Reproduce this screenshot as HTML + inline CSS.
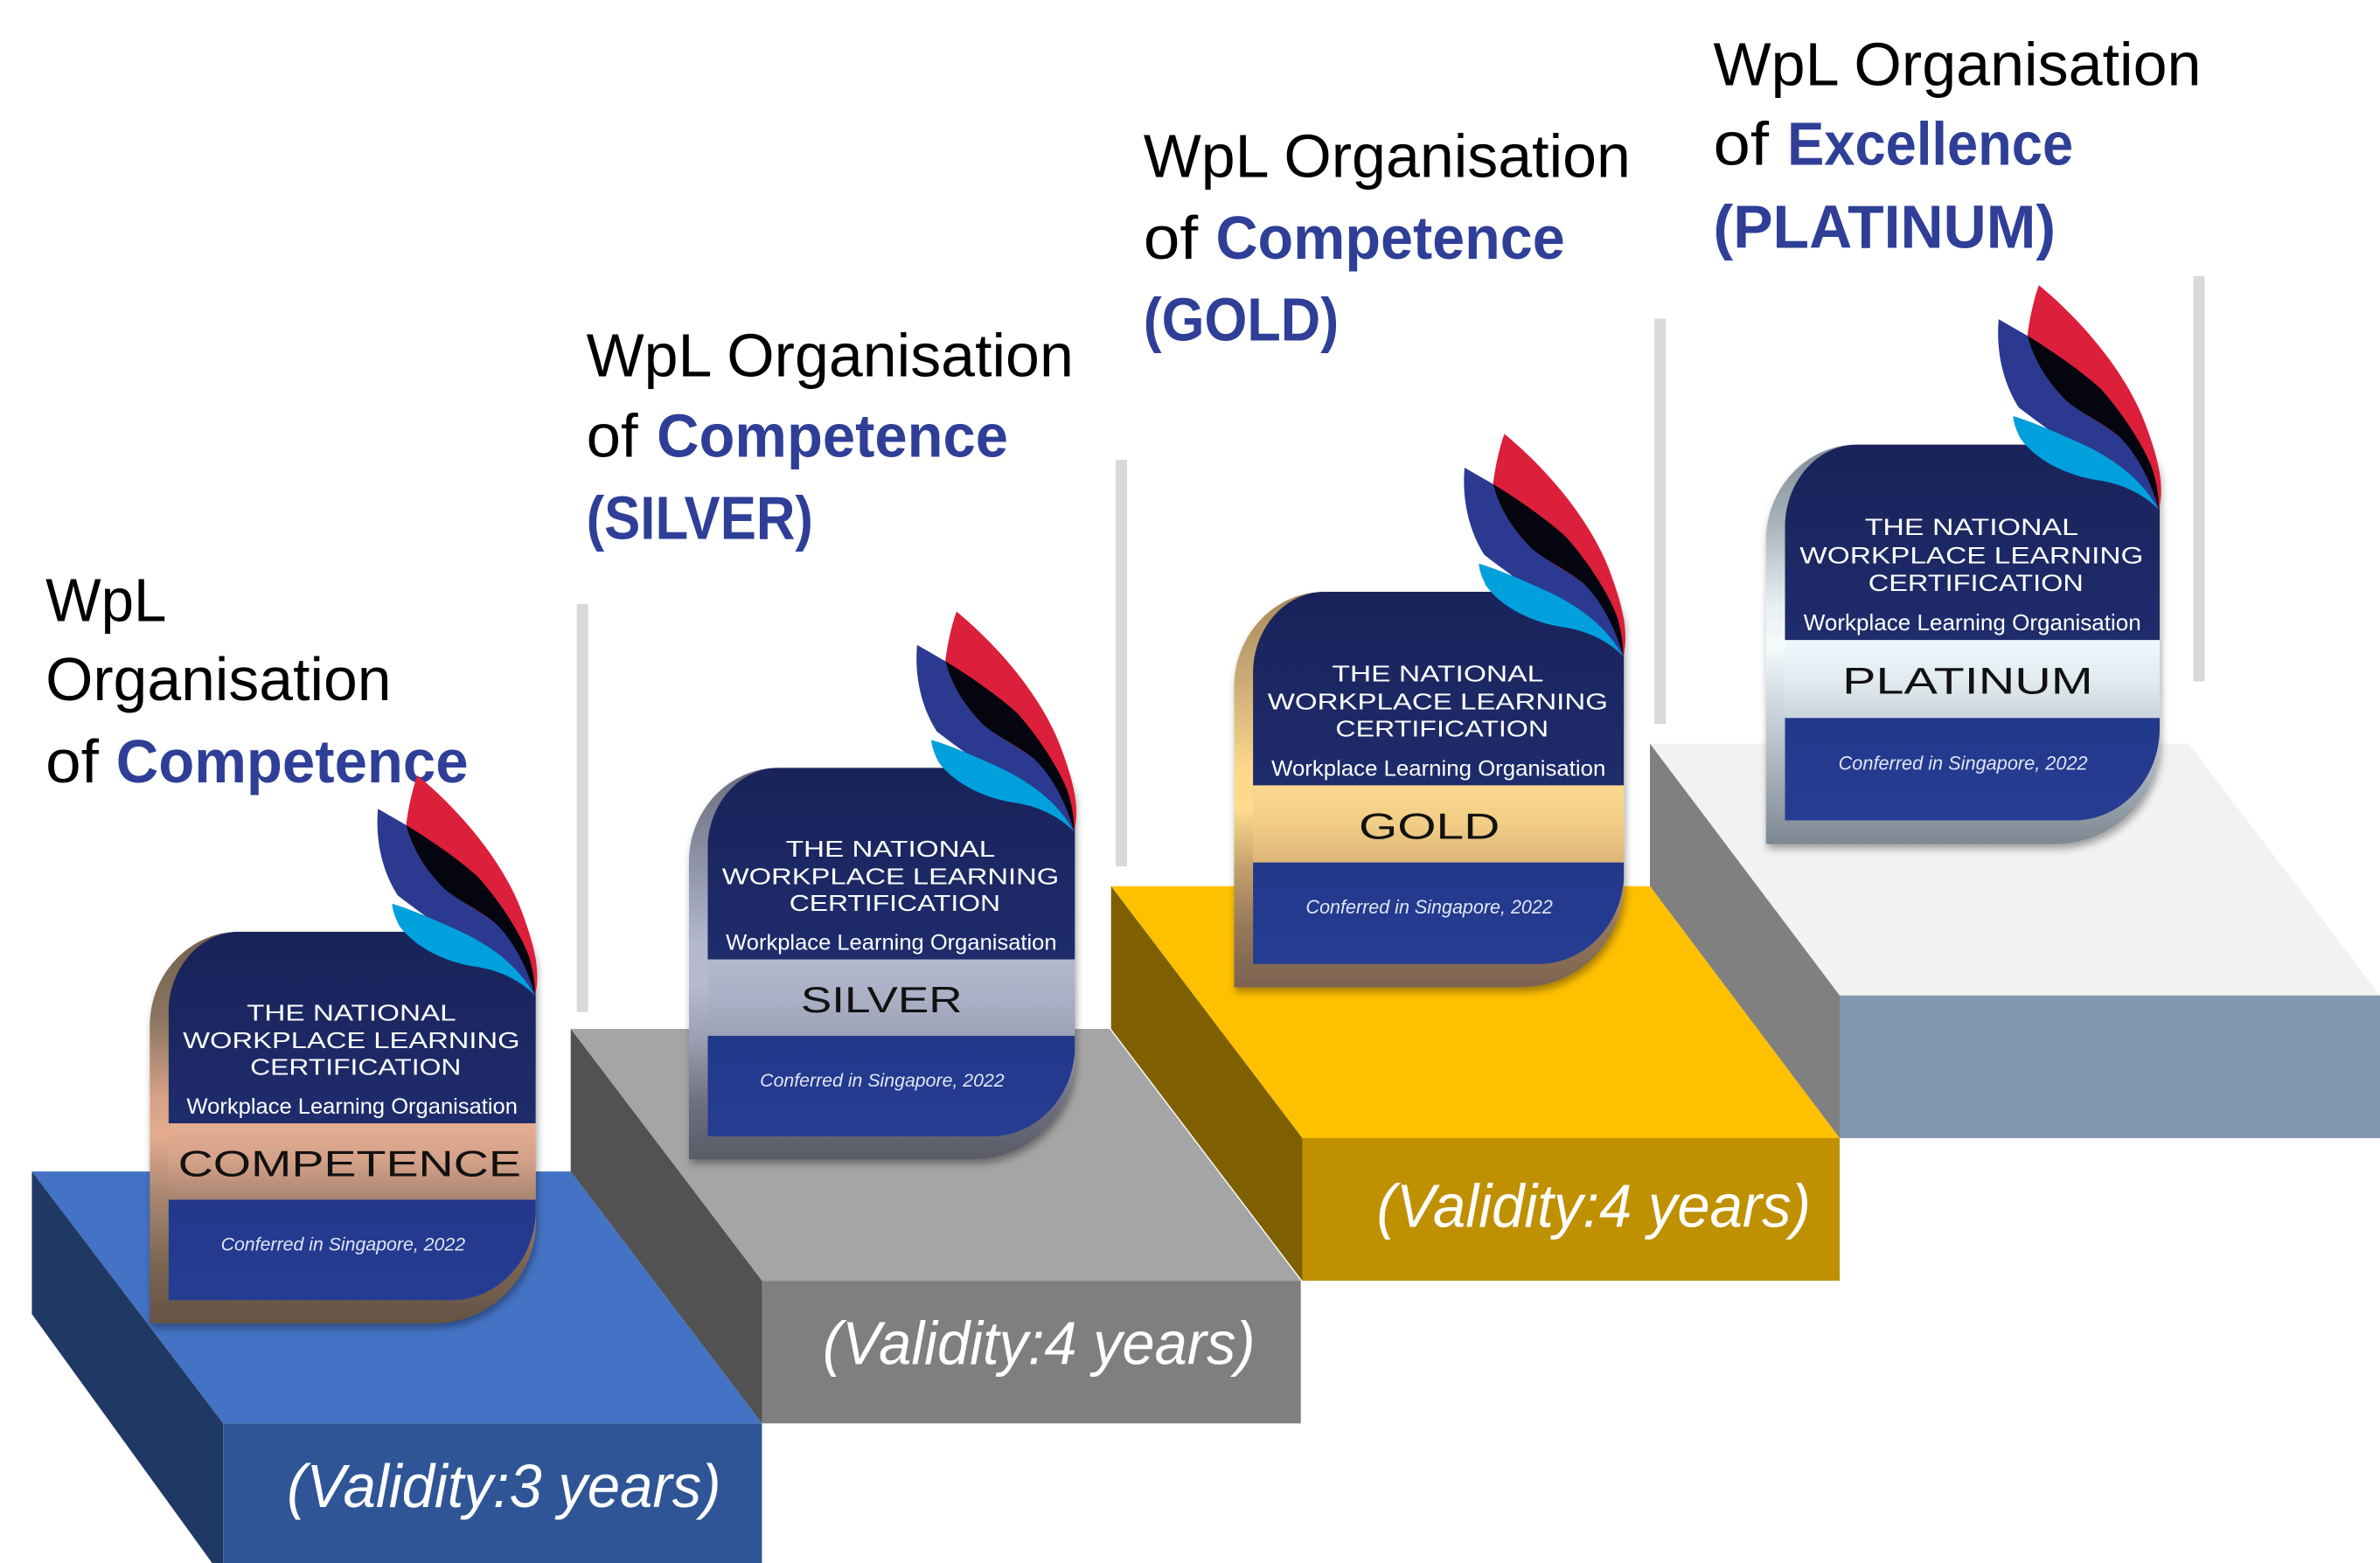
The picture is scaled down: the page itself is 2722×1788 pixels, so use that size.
<!DOCTYPE html>
<html>
<head>
<meta charset="utf-8">
<style>
html,body{margin:0;padding:0;background:#fff;overflow:hidden;}
svg{display:block;}
</style>
</head>
<body>
<svg width="2722" height="1788" viewBox="0 0 1568 1030" preserveAspectRatio="none" xmlns="http://www.w3.org/2000/svg" font-family="'Liberation Sans', sans-serif">
<defs>
  <path id="frame" d="M -12.3,258 L -12.3,62 C -12.3,28 14,0 46.5,0 L 235,0 L 242,18 L 242,191 C 242,228 212,258 175,258 Z"/>
  <path id="panel" d="M 0,242.8 L 0,53 C 0,24 21,0 46.5,0 L 235,0 L 242,18 L 242,183.3 C 242,216 217,242.8 186.6,242.8 Z"/>
  <clipPath id="pclip"><use href="#panel"/></clipPath>
  <filter id="sh" x="-20%" y="-20%" width="140%" height="140%">
    <feDropShadow dx="1" dy="3" stdDeviation="2.5" flood-color="#000" flood-opacity="0.35"/>
  </filter>
  <linearGradient id="navy" x1="0" y1="0" x2="0" y2="1">
    <stop offset="0" stop-color="#19235a"/>
    <stop offset="1" stop-color="#1f2c6c"/>
  </linearGradient>
  <linearGradient id="blueSec" x1="0" y1="0" x2="0" y2="1">
    <stop offset="0" stop-color="#22388a"/>
    <stop offset="1" stop-color="#263d94"/>
  </linearGradient>

  <linearGradient id="f1" x1="0" y1="0" x2="0" y2="1">
    <stop offset="0" stop-color="#72614e"/>
    <stop offset="0.22" stop-color="#8a7560"/>
    <stop offset="0.42" stop-color="#d6a086"/>
    <stop offset="0.52" stop-color="#e4ab8f"/>
    <stop offset="0.68" stop-color="#a88670"/>
    <stop offset="0.85" stop-color="#7a6551"/>
    <stop offset="1" stop-color="#655343"/>
  </linearGradient>
  <linearGradient id="b1" x1="0" y1="0" x2="0" y2="1">
    <stop offset="0" stop-color="#e6ae93"/>
    <stop offset="0.5" stop-color="#d3a088"/>
    <stop offset="1" stop-color="#a98470"/>
  </linearGradient>

  <linearGradient id="f2" x1="0" y1="0" x2="0" y2="1">
    <stop offset="0" stop-color="#6b6e7d"/>
    <stop offset="0.25" stop-color="#8f94a8"/>
    <stop offset="0.45" stop-color="#b3b8cc"/>
    <stop offset="0.55" stop-color="#b7bbcf"/>
    <stop offset="0.7" stop-color="#9a9eb0"/>
    <stop offset="0.85" stop-color="#6f7181"/>
    <stop offset="1" stop-color="#5a5b67"/>
  </linearGradient>
  <linearGradient id="b2" x1="0" y1="0" x2="0" y2="1">
    <stop offset="0" stop-color="#b3b8cd"/>
    <stop offset="0.5" stop-color="#aab0c5"/>
    <stop offset="1" stop-color="#9ca1b5"/>
  </linearGradient>

  <linearGradient id="f3" x1="0" y1="0" x2="0" y2="1">
    <stop offset="0" stop-color="#a78a5e"/>
    <stop offset="0.25" stop-color="#cfb079"/>
    <stop offset="0.45" stop-color="#fbd98c"/>
    <stop offset="0.55" stop-color="#fcdb8e"/>
    <stop offset="0.7" stop-color="#c2a06d"/>
    <stop offset="0.85" stop-color="#957758"/>
    <stop offset="1" stop-color="#7c6350"/>
  </linearGradient>
  <linearGradient id="b3" x1="0" y1="0" x2="0" y2="1">
    <stop offset="0" stop-color="#fbd98e"/>
    <stop offset="0.5" stop-color="#f1cd86"/>
    <stop offset="1" stop-color="#dcb577"/>
  </linearGradient>

  <linearGradient id="f4" x1="0" y1="0" x2="0" y2="1">
    <stop offset="0" stop-color="#7f8b95"/>
    <stop offset="0.2" stop-color="#a9b4bc"/>
    <stop offset="0.4" stop-color="#e6eef2"/>
    <stop offset="0.5" stop-color="#f6fbfc"/>
    <stop offset="0.65" stop-color="#cfd8de"/>
    <stop offset="0.85" stop-color="#a0abb4"/>
    <stop offset="1" stop-color="#7d8893"/>
  </linearGradient>
  <linearGradient id="b4" x1="0" y1="0" x2="0" y2="1">
    <stop offset="0" stop-color="#edf9fc"/>
    <stop offset="0.5" stop-color="#e2ecf0"/>
    <stop offset="1" stop-color="#cad5db"/>
  </linearGradient>

  <g id="flame">
    <path fill="#dc1f3a" d="M -78,-103 C -50,-80 -20,-45 -8,-10 C 0,12 3,28 -0.5,42 C -20,20 -70,-20 -85.4,-70.3 C -84,-82 -81,-95 -78,-103 Z"/>
    <path fill="#05050f" d="M -85.4,-70.3 C -70,-61 -50,-47 -38,-36 C -22,-18 -10,2 -5,15 C -2,24 -0.5,33 -0.5,42 C -4,28 -15,8 -27,-6 C -40,-16 -52,-21 -60,-28 C -72,-40 -82,-55 -85.4,-70.3 Z"/>
    <path fill="#2b3990" d="M -104,-81 L -85.4,-70.3 C -82,-55 -72,-40 -60,-28 C -50,-20 -38,-14 -27,-6 C -15,5 -5,25 -0.5,42 C -20,25 -60,0 -91,-24 C -100,-38 -106,-58 -104,-81 Z"/>
    <path fill="#00a0dc" d="M -94.6,-18.4 C -80,-14 -60,-5 -45,2 C -28,11 -12,22 -0.5,42 C -10,32 -25,25 -40,23 C -60,20 -80,10 -90,-4 C -93,-10 -94.6,-15 -94.6,-18.4 Z"/>
  </g>

  <g id="hdr" fill="#ffffff">
    <text x="120.5" y="58.5" font-size="15" text-anchor="middle" textLength="138" lengthAdjust="spacingAndGlyphs">THE NATIONAL</text>
    <text x="120.5" y="76.7" font-size="15" text-anchor="middle" textLength="222" lengthAdjust="spacingAndGlyphs">WORKPLACE LEARNING</text>
    <text x="123.3" y="94.4" font-size="15" text-anchor="middle" textLength="139" lengthAdjust="spacingAndGlyphs">CERTIFICATION</text>
    <text x="121" y="120" font-size="14.5" text-anchor="middle" textLength="218" lengthAdjust="spacingAndGlyphs">Workplace Learning Organisation</text>
    <text x="115" y="210" font-size="12.5" font-style="italic" fill="#e2e6f4" text-anchor="middle" textLength="161" lengthAdjust="spacingAndGlyphs">Conferred in Singapore, 2022</text>
  </g>
</defs>

<!-- vertical bars -->
<g fill="#d9d9d9">
  <rect x="380" y="398" width="7.5" height="269"/>
  <rect x="735" y="303" width="7.5" height="268"/>
  <rect x="1090" y="210" width="7.5" height="267"/>
  <rect x="1445" y="182" width="7.5" height="267"/>
</g>

<!-- steps -->
<polygon points="1087,490 1442,490 1568,656 1212,656" fill="#f2f2f2"/>
<polygon points="1087,490 1212,656 1212,750 1087,584" fill="#808080"/>
<rect x="1212" y="656" width="356" height="94" fill="#8497b0"/>

<polygon points="732,584 1087,584 1212,750 858,750" fill="#ffc000"/>
<polygon points="732,584 858,750 858,844 732,678" fill="#7f6000"/>
<rect x="858" y="750" width="354" height="94" fill="#bf9000"/>

<polygon points="376,678 731,678 857,844 502,844" fill="#a5a5a5"/>
<polygon points="376,678 502,844 502,938 376,772" fill="#525252"/>
<rect x="502" y="844" width="355" height="94" fill="#7f7f7f"/>

<polygon points="21,772 376,772 502,938 147,938" fill="#4472c4"/>
<polygon points="21,772 147,938 147,1040 21,866" fill="#203864"/>
<rect x="147" y="938" width="355" height="100" fill="#2f5597"/>

<!-- validity labels -->
<g fill="#ffffff" font-size="40" font-style="italic">
  <text x="189" y="993" textLength="286" lengthAdjust="spacingAndGlyphs">(Validity:3 years)</text>
  <text x="542" y="899" textLength="285" lengthAdjust="spacingAndGlyphs">(Validity:4 years)</text>
  <text x="907" y="808.5" textLength="286" lengthAdjust="spacingAndGlyphs">(Validity:4 years)</text>
</g>

<!-- headings -->
<g font-size="40" fill="#000">
  <text x="30" y="409.3" textLength="79.7" lengthAdjust="spacingAndGlyphs">WpL</text>
  <text x="30" y="461.4" textLength="227.8" lengthAdjust="spacingAndGlyphs">Organisation</text>
  <text x="30" y="515.5" textLength="35" lengthAdjust="spacingAndGlyphs">of</text>
  <text x="76.5" y="515.5" font-weight="bold" fill="#2f3f97" textLength="232" lengthAdjust="spacingAndGlyphs">Competence</text>

  <text x="386.3" y="247.9" textLength="321" lengthAdjust="spacingAndGlyphs">WpL Organisation</text>
  <text x="386.3" y="301" textLength="34" lengthAdjust="spacingAndGlyphs">of</text>
  <text x="432.7" y="301" font-weight="bold" fill="#2f3f97" textLength="231.5" lengthAdjust="spacingAndGlyphs">Competence</text>
  <text x="386.3" y="355.1" font-weight="bold" fill="#2f3f97" textLength="149.4" lengthAdjust="spacingAndGlyphs">(SILVER)</text>

  <text x="753.3" y="116.7" textLength="321" lengthAdjust="spacingAndGlyphs">WpL Organisation</text>
  <text x="753.3" y="170.5" textLength="36" lengthAdjust="spacingAndGlyphs">of</text>
  <text x="801" y="170.5" font-weight="bold" fill="#2f3f97" textLength="230" lengthAdjust="spacingAndGlyphs">Competence</text>
  <text x="753.3" y="224.3" font-weight="bold" fill="#2f3f97" textLength="128.7" lengthAdjust="spacingAndGlyphs">(GOLD)</text>

  <text x="1128.8" y="56.1" textLength="321.4" lengthAdjust="spacingAndGlyphs">WpL Organisation</text>
  <text x="1128.8" y="108.5" textLength="36.6" lengthAdjust="spacingAndGlyphs">of</text>
  <text x="1177.5" y="108.5" font-weight="bold" fill="#2f3f97" textLength="188.4" lengthAdjust="spacingAndGlyphs">Excellence</text>
  <text x="1128.8" y="163.2" font-weight="bold" fill="#2f3f97" textLength="225.5" lengthAdjust="spacingAndGlyphs">(PLATINUM)</text>
</g>

<!-- Badge 1: COMPETENCE -->
<g transform="translate(111,614)">
  <use href="#frame" fill="url(#f1)" filter="url(#sh)"/>
  <g clip-path="url(#pclip)">
    <rect x="0" y="0" width="242" height="126.3" fill="url(#navy)"/>
    <rect x="0" y="126.3" width="242" height="50.3" fill="url(#b1)"/>
    <rect x="0" y="176.6" width="242" height="67" fill="url(#blueSec)"/>
  </g>
  <use href="#hdr"/>
  <text x="119.3" y="161" font-size="24" fill="#111" text-anchor="middle" textLength="226" lengthAdjust="spacingAndGlyphs">COMPETENCE</text>
  <use href="#flame" transform="translate(242,0)"/>
</g>

<!-- Badge 2: SILVER -->
<g transform="translate(466.2,506)">
  <use href="#frame" fill="url(#f2)" filter="url(#sh)"/>
  <g clip-path="url(#pclip)">
    <rect x="0" y="0" width="242" height="126.3" fill="url(#navy)"/>
    <rect x="0" y="126.3" width="242" height="50.3" fill="url(#b2)"/>
    <rect x="0" y="176.6" width="242" height="67" fill="url(#blueSec)"/>
  </g>
  <use href="#hdr"/>
  <text x="114.6" y="161" font-size="24" fill="#111" text-anchor="middle" textLength="106.4" lengthAdjust="spacingAndGlyphs">SILVER</text>
  <use href="#flame" transform="translate(242,0)"/>
</g>

<!-- Badge 3: GOLD -->
<g transform="translate(825.5,390) scale(1.01)">
  <use href="#frame" fill="url(#f3)" filter="url(#sh)"/>
  <g clip-path="url(#pclip)">
    <rect x="0" y="0" width="242" height="126.3" fill="url(#navy)"/>
    <rect x="0" y="126.3" width="242" height="50.3" fill="url(#b3)"/>
    <rect x="0" y="176.6" width="242" height="67" fill="url(#blueSec)"/>
  </g>
  <use href="#hdr"/>
  <text x="115" y="161" font-size="24" fill="#111" text-anchor="middle" textLength="92" lengthAdjust="spacingAndGlyphs">GOLD</text>
  <use href="#flame" transform="translate(242,0)"/>
</g>

<!-- Badge 4: PLATINUM -->
<g transform="translate(1176,293) scale(1.02)">
  <use href="#frame" fill="url(#f4)" filter="url(#sh)"/>
  <g clip-path="url(#pclip)">
    <rect x="0" y="0" width="242" height="126.3" fill="url(#navy)"/>
    <rect x="0" y="126.3" width="242" height="50.3" fill="url(#b4)"/>
    <rect x="0" y="176.6" width="242" height="67" fill="url(#blueSec)"/>
  </g>
  <use href="#hdr"/>
  <text x="118" y="161" font-size="24" fill="#111" text-anchor="middle" textLength="161.8" lengthAdjust="spacingAndGlyphs">PLATINUM</text>
  <use href="#flame" transform="translate(242,0)"/>
</g>
</svg>
</body>
</html>
